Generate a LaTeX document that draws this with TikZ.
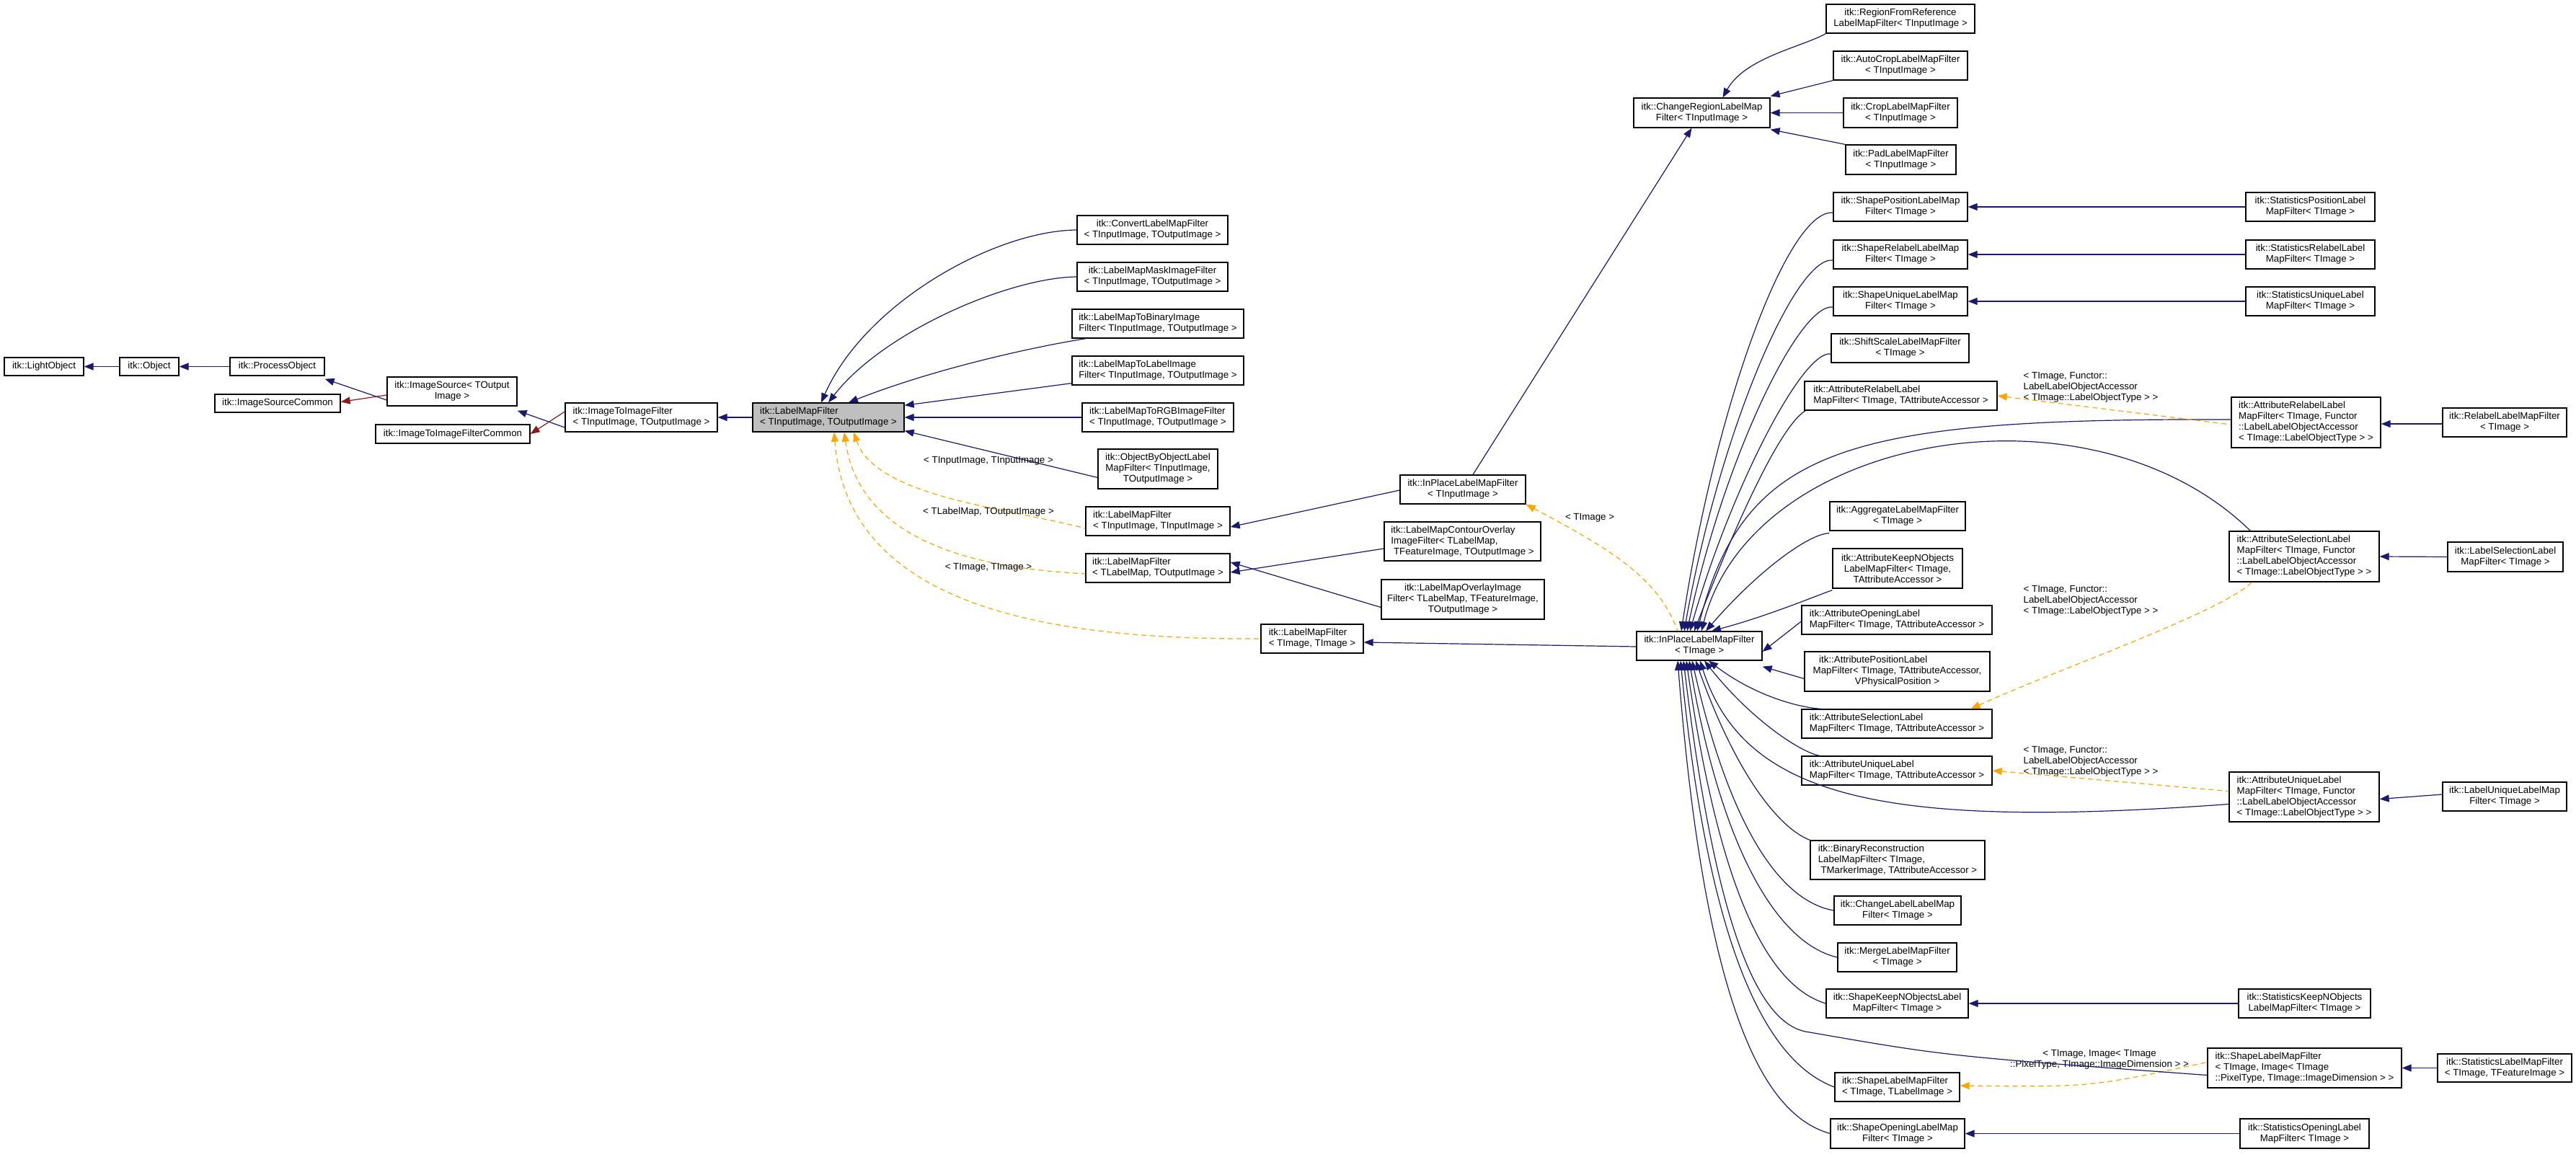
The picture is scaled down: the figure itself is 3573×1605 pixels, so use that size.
\documentclass[tikz,border=0pt]{standalone}
\usepackage{fontspec}
\setmainfont{Liberation Sans}
\usetikzlibrary{arrows.meta}
\definecolor{navy}{RGB}{25,25,112}
\definecolor{dorange}{RGB}{255,165,0}
\definecolor{dred}{RGB}{139,26,26}
\definecolor{gbox}{RGB}{191,191,191}
\newcommand\bx[7][]{\node[box,#1,minimum width={(#5-#3)*1pt},minimum height={(#6-#4)*1pt}] (#2) at ({(#3+#5)/2},{(#4+#6)/2}) {#7};}
\begin{document}
\begin{tikzpicture}[x=1pt,y=-1pt,
  box/.style={draw=black,line width=1.3pt,fill=white,inner sep=0pt,align=center,font=\fontsize{13.3}{15}\selectfont},
  lt/.style={align=left},
  inh/.style={draw=navy,line width=1.2pt,{Triangle[length=13pt,width=10pt]}-},
  tmpl/.style={draw=dorange,line width=1.2pt,dash pattern=on 7pt off 5pt,{Triangle[length=13pt,width=10pt]}-},
  red/.style={draw=dred,line width=1.2pt,{Triangle[length=13pt,width=10pt]}-},
  lab/.style={font=\fontsize{13.3}{15}\selectfont,inner sep=0pt,align=center}]
\useasboundingbox (0,0) rectangle (3573,1605);
\fill[white] (0,0) rectangle (3573,1605);
% left chain
\bx{lo}{6}{496}{116}{521}{itk::LightObject}
\bx{ob}{166}{496}{248}{521}{itk::Object}
\bx{po}{319}{496}{450}{521}{itk::ProcessObject}
\bx{is}{537}{523}{717}{563}{itk::ImageSource< TOutput\\Image >}
\bx{isc}{298}{547}{472}{572}{itk::ImageSourceCommon}
\bx[lt]{itif}{784}{559}{995}{599}{itk::ImageToImageFilter\\< TInputImage, TOutputImage >}
\bx{itifc}{521}{589}{735}{615}{itk::ImageToImageFilterCommon}
\bx[lt,fill=gbox]{lmf}{1044}{559}{1254}{599}{itk::LabelMapFilter\\< TInputImage, TOutputImage >}
% children of lmf
\bx{cv}{1494}{299}{1703}{339}{itk::ConvertLabelMapFilter\\< TInputImage, TOutputImage >}
\bx{mk}{1494}{364}{1703}{404}{itk::LabelMapMaskImageFilter\\< TInputImage, TOutputImage >}
\bx[lt]{tb}{1487}{429}{1725}{469}{itk::LabelMapToBinaryImage\\Filter< TInputImage, TOutputImage >}
\bx[lt]{tl}{1487}{494}{1725}{534}{itk::LabelMapToLabelImage\\Filter< TInputImage, TOutputImage >}
\bx[lt]{rgb}{1501}{559}{1711}{599}{itk::LabelMapToRGBImageFilter\\< TInputImage, TOutputImage >}
\bx{obo}{1523}{623}{1689}{678}{itk::ObjectByObjectLabel\\MapFilter< TInputImage,\\TOutputImage >}
\bx[lt]{lii}{1506}{703}{1706}{743}{itk::LabelMapFilter\\< TInputImage, TInputImage >}
\bx[lt]{llo}{1506}{768}{1706}{808}{itk::LabelMapFilter\\< TLabelMap, TOutputImage >}
\bx{ipi}{1942}{659}{2116}{699}{itk::InPlaceLabelMapFilter\\< TInputImage >}
\bx[lt]{co}{1920}{724}{2137}{778}{itk::LabelMapContourOverlay\\ImageFilter< TLabelMap,\\\ TFeatureImage, TOutputImage >}
\bx{ov}{1916}{804}{2142}{859}{itk::LabelMapOverlayImage\\Filter< TLabelMap, TFeatureImage,\\TOutputImage >}
\bx[lt]{ltt}{1749}{866}{1891}{906}{itk::LabelMapFilter\\< TImage, TImage >}
\bx{ip}{2270}{876}{2444}{916}{itk::InPlaceLabelMapFilter\\< TImage >}
% change region
\bx{cr}{2266}{136}{2455}{177}{itk::ChangeRegionLabelMap\\Filter< TInputImage >}
\bx{rfr}{2533}{6}{2739}{46}{itk::RegionFromReference\\LabelMapFilter< TInputImage >}
\bx{ac}{2543}{71}{2729}{111}{itk::AutoCropLabelMapFilter\\< TInputImage >}
\bx{cp}{2557}{136}{2715}{177}{itk::CropLabelMapFilter\\< TInputImage >}
\bx{pd}{2560}{201}{2713}{242}{itk::PadLabelMapFilter\\< TInputImage >}
% children of ip
\bx{sp}{2543}{267}{2729}{307}{itk::ShapePositionLabelMap\\Filter< TImage >}
\bx{stp}{3115}{267}{3294}{307}{itk::StatisticsPositionLabel\\MapFilter< TImage >}
\bx{sr}{2543}{333}{2729}{373}{itk::ShapeRelabelLabelMap\\Filter< TImage >}
\bx{str}{3115}{333}{3294}{373}{itk::StatisticsRelabelLabel\\MapFilter< TImage >}
\bx{su}{2543}{398}{2729}{438}{itk::ShapeUniqueLabelMap\\Filter< TImage >}
\bx{stu}{3115}{398}{3294}{438}{itk::StatisticsUniqueLabel\\MapFilter< TImage >}
\bx{ss}{2540}{463}{2731}{503}{itk::ShiftScaleLabelMapFilter\\< TImage >}
\bx[lt]{arl}{2503}{529}{2770}{569}{itk::AttributeRelabelLabel\\MapFilter< TImage, TAttributeAccessor >}
\bx[lt]{arr}{3095}{551}{3302}{621}{itk::AttributeRelabelLabel\\MapFilter< TImage, Functor\\::LabelLabelObjectAccessor\\< TImage::LabelObjectType > >}
\bx{rl}{3388}{566}{3560}{606}{itk::RelabelLabelMapFilter\\< TImage >}
\bx{ag}{2538}{696}{2726}{736}{itk::AggregateLabelMapFilter\\< TImage >}
\bx{kn}{2542}{761}{2722}{816}{itk::AttributeKeepNObjects\\LabelMapFilter< TImage,\\TAttributeAccessor >}
\bx[lt]{ao}{2499}{840}{2763}{880}{itk::AttributeOpeningLabel\\MapFilter< TImage, TAttributeAccessor >}
\bx{apo}{2503}{904}{2760}{959}{itk::AttributePositionLabel\hspace*{5em}\\MapFilter< TImage, TAttributeAccessor,\\VPhysicalPosition >}
\bx[lt]{asl}{2499}{984}{2763}{1024}{itk::AttributeSelectionLabel\\MapFilter< TImage, TAttributeAccessor >}
\bx[lt]{asr}{3092}{737}{3300}{807}{itk::AttributeSelectionLabel\\MapFilter< TImage, Functor\\::LabelLabelObjectAccessor\\< TImage::LabelObjectType > >}
\bx{ls}{3395}{752}{3555}{793}{itk::LabelSelectionLabel\\MapFilter< TImage >}
\bx[lt]{aul}{2499}{1049}{2763}{1089}{itk::AttributeUniqueLabel\\MapFilter< TImage, TAttributeAccessor >}
\bx[lt]{aur}{3092}{1071}{3300}{1140}{itk::AttributeUniqueLabel\\MapFilter< TImage, Functor\\::LabelLabelObjectAccessor\\< TImage::LabelObjectType > >}
\bx{lu}{3388}{1085}{3560}{1125}{itk::LabelUniqueLabelMap\\Filter< TImage >}
\bx[lt]{br}{2511}{1166}{2753}{1220}{itk::BinaryReconstruction\\LabelMapFilter< TImage,\\\ TMarkerImage, TAttributeAccessor >}
\bx{cl}{2544}{1243}{2720}{1283}{itk::ChangeLabelLabelMap\\Filter< TImage >}
\bx{mg}{2549}{1308}{2714}{1348}{itk::MergeLabelMapFilter\\< TImage >}
\bx{skn}{2533}{1372}{2730}{1412}{itk::ShapeKeepNObjectsLabel\\MapFilter< TImage >}
\bx{stkn}{3105}{1372}{3288}{1412}{itk::StatisticsKeepNObjects\\LabelMapFilter< TImage >}
\bx[lt]{slr}{3062}{1454}{3331}{1509}{itk::ShapeLabelMapFilter\\< TImage, Image< TImage\\::PixelType, TImage::ImageDimension > >}
\bx{stl}{3381}{1462}{3567}{1501}{itk::StatisticsLabelMapFilter\\< TImage, TFeatureImage >}
\bx[lt]{sll}{2545}{1488}{2718}{1528}{itk::ShapeLabelMapFilter\\< TImage, TLabelImage >}
\bx{so}{2539}{1552}{2725}{1593}{itk::ShapeOpeningLabelMap\\Filter< TImage >}
\bx{sto}{3107}{1552}{3286}{1593}{itk::StatisticsOpeningLabel\\MapFilter< TImage >}
% ---- edges left chain
\draw[inh] (lo.east) -- (ob.west);
\draw[inh] (ob.east) -- (po.west);
\draw[inh] ([yshift=-4pt]po.south east) -- ([yshift=-12pt]is.west);
\draw[red] ([yshift=2pt]isc.east) -- ([yshift=-5pt]is.west);
\draw[inh] ([yshift=-6pt]is.south east) -- ([yshift=-14pt]itif.west);
\draw[red] (itifc.east) -- ([yshift=8pt]itif.west);
\draw[inh] (itif.east) -- (lmf.west);
% lmf children
\draw[inh] ([xshift=-10pt]lmf.north) .. controls (1200,420) and (1380,320) .. (cv.west);
\draw[inh] ([xshift=0pt]lmf.north) .. controls (1225,460) and (1400,385) .. (mk.west);
\draw[inh] ([xshift=28pt]lmf.north) .. controls (1300,510) and (1440,480) .. ([xshift=20pt]tb.south west);
\draw[inh] ([yshift=-4pt]lmf.north east) -- ([yshift=3pt]tl.south west);
\draw[inh] (lmf.east) -- (rgb.west);
\draw[inh] ([yshift=2pt]lmf.south east) -- ([yshift=-12pt]obo.west);
\draw[tmpl] ([xshift=35pt]lmf.south) .. controls (1215,690) and (1400,705) .. ([yshift=-10pt]lii.west);
\draw[tmpl] ([xshift=22pt]lmf.south) .. controls (1195,770) and (1400,790) .. ([yshift=-8pt]llo.west);
\draw[tmpl] ([xshift=8pt]lmf.south) .. controls (1175,840) and (1450,888) .. (ltt.west);
\node[lab] (l1) at (1371,639) {< TInputImage, TInputImage >};
\node[lab] (l2) at (1371,710) {< TLabelMap, TOutputImage >};
\node[lab] (l3) at (1371,787) {< TImage, TImage >};
\draw[inh] ([yshift=-8pt]lii.east) -- ([yshift=-1pt]ipi.west);
\draw[inh] ([yshift=-6pt]llo.east) -- ([yshift=-10pt]co.west);
\draw[inh] ([yshift=8pt]llo.east) -- ([yshift=-11pt]ov.west);
\draw[inh] ([yshift=-5pt]ltt.east) -- ([yshift=-1pt]ip.west);
\draw[tmpl] (ipi.south east) .. controls (2230,760) and (2300,800) .. ([xshift=-30pt]ip.north);
\node[lab] (l4) at (2205,718) {< TImage >};
% change region
\draw[inh] ([xshift=-14pt]cr.south) -- ([xshift=14pt]ipi.north);
\draw[inh] ([xshift=29pt]cr.north) .. controls (2420,80) and (2500,65) .. (rfr.south west);
\draw[inh] ([yshift=2pt]cr.north east) -- (ac.south west);
\draw[inh] (cr.east) -- (cp.west);
\draw[inh] ([yshift=-2pt]cr.south east) -- (pd.north west);
% ip children above
\draw[inh] ([xshift=-25pt]ip.north) .. controls (2380,560) and (2480,290) .. ([yshift=-8pt]sp.west);
\draw[inh] ([xshift=-21pt]ip.north) .. controls (2385,600) and (2490,355) .. ([yshift=-8pt]sr.west);
\draw[inh] ([xshift=-17pt]ip.north) .. controls (2390,640) and (2495,420) .. ([yshift=-8pt]su.west);
\draw[inh] ([xshift=-13pt]ip.north) .. controls (2400,680) and (2500,485) .. ([yshift=-8pt]ss.west);
\draw[inh] ([xshift=-7pt]ip.north) .. controls (2410,720) and (2470,590) .. ([xshift=2pt]arl.south west);
\draw[inh] ([xshift=-3pt]ip.north) .. controls (2420,620) and (2560,580) .. ([yshift=4pt]arr.west);
\draw[inh] ([xshift=3pt]ip.north) .. controls (2430,600) and (2900,520) .. ([xshift=30pt]asr.north west);
\draw[inh] ([xshift=9pt]ip.north) .. controls (2440,790) and (2510,740) .. ([yshift=-3pt]ag.south west);
\draw[inh] ([xshift=17pt]ip.north) .. controls (2450,855) and (2510,830) .. ([yshift=-2pt]kn.south west);
\draw[inh] ([yshift=-8pt]ip.east) -- ([yshift=-2pt]ao.west);
\draw[inh] ([yshift=-8pt]ip.south east) -- ([yshift=-10pt]apo.west);
\node[lab,align=left] (l5) at (2900,537) {< TImage, Functor::\\LabelLabelObjectAccessor\\< TImage::LabelObjectType > >};
\node[lab,align=left] (l6) at (2900,833) {< TImage, Functor::\\LabelLabelObjectAccessor\\< TImage::LabelObjectType > >};
\node[lab,align=left] (l7) at (2900,1056) {< TImage, Functor::\\LabelLabelObjectAccessor\\< TImage::LabelObjectType > >};
\node[lab] (l8) at (2912,1470) {< TImage, Image< TImage\\::PixelType, TImage::ImageDimension > >};
\draw[tmpl] (arl.east) -- ([yshift=-3pt]arr.west);
\draw[tmpl] ([xshift=-30pt]asl.north east) .. controls (2850,930) and (3080,850) .. ([xshift=32pt]asr.south west);
\draw[tmpl] (aul.east) -- ([yshift=8pt]aur.west);
\draw[tmpl] ([yshift=2pt]sll.east) .. controls (2900,1508) .. ([yshift=8pt]slr.west);
% ip children below
\draw[inh] ([xshift=13pt]ip.south) .. controls (2440,970) and (2510,985) .. ([xshift=36pt]asl.north west);
\draw[inh] ([xshift=7pt]ip.south) .. controls (2430,1000) and (2500,1045) .. ([xshift=26pt]aul.north west);
\draw[inh] ([xshift=1pt]ip.south) .. controls (2420,1110) and (2620,1150) .. ([yshift=-10pt]aur.west);
\draw[inh] ([xshift=-5pt]ip.south) .. controls (2410,1080) and (2470,1150) .. (br.north west);
\draw[inh] ([xshift=-10pt]ip.south) .. controls (2400,1150) and (2470,1250) .. (cl.west);
\draw[inh] ([xshift=-14pt]ip.south) .. controls (2390,1190) and (2470,1310) .. (mg.west);
\draw[inh] ([xshift=-18pt]ip.south) .. controls (2388,1260) and (2460,1370) .. (skn.west);
\draw[inh] ([xshift=-22pt]ip.south) .. controls (2385,1330) and (2450,1425) .. (2510,1432) .. controls (2700,1465) .. ([yshift=-10pt]slr.west);
\draw[inh] ([xshift=-26pt]ip.south) .. controls (2375,1370) and (2470,1480) .. (sll.west);
\draw[inh] ([xshift=-30pt]ip.south) .. controls (2368,1440) and (2460,1550) .. (so.west);
% horizontal
\draw[inh] (sp.east) -- (stp.west);
\draw[inh] (sr.east) -- (str.west);
\draw[inh] (su.east) -- (stu.west);
\draw[inh] ([yshift=-2pt]arr.east) -- ([yshift=-2pt]rl.west);
\draw[inh] (asr.east) -- (ls.west);
\draw[inh] ([yshift=-3pt]aur.east) -- ([yshift=3pt]lu.west);
\draw[inh] (skn.east) -- (stkn.west);
\draw[inh] (slr.east) -- (stl.west);
\draw[inh] (so.east) -- (sto.west);
\end{tikzpicture}
\end{document}
